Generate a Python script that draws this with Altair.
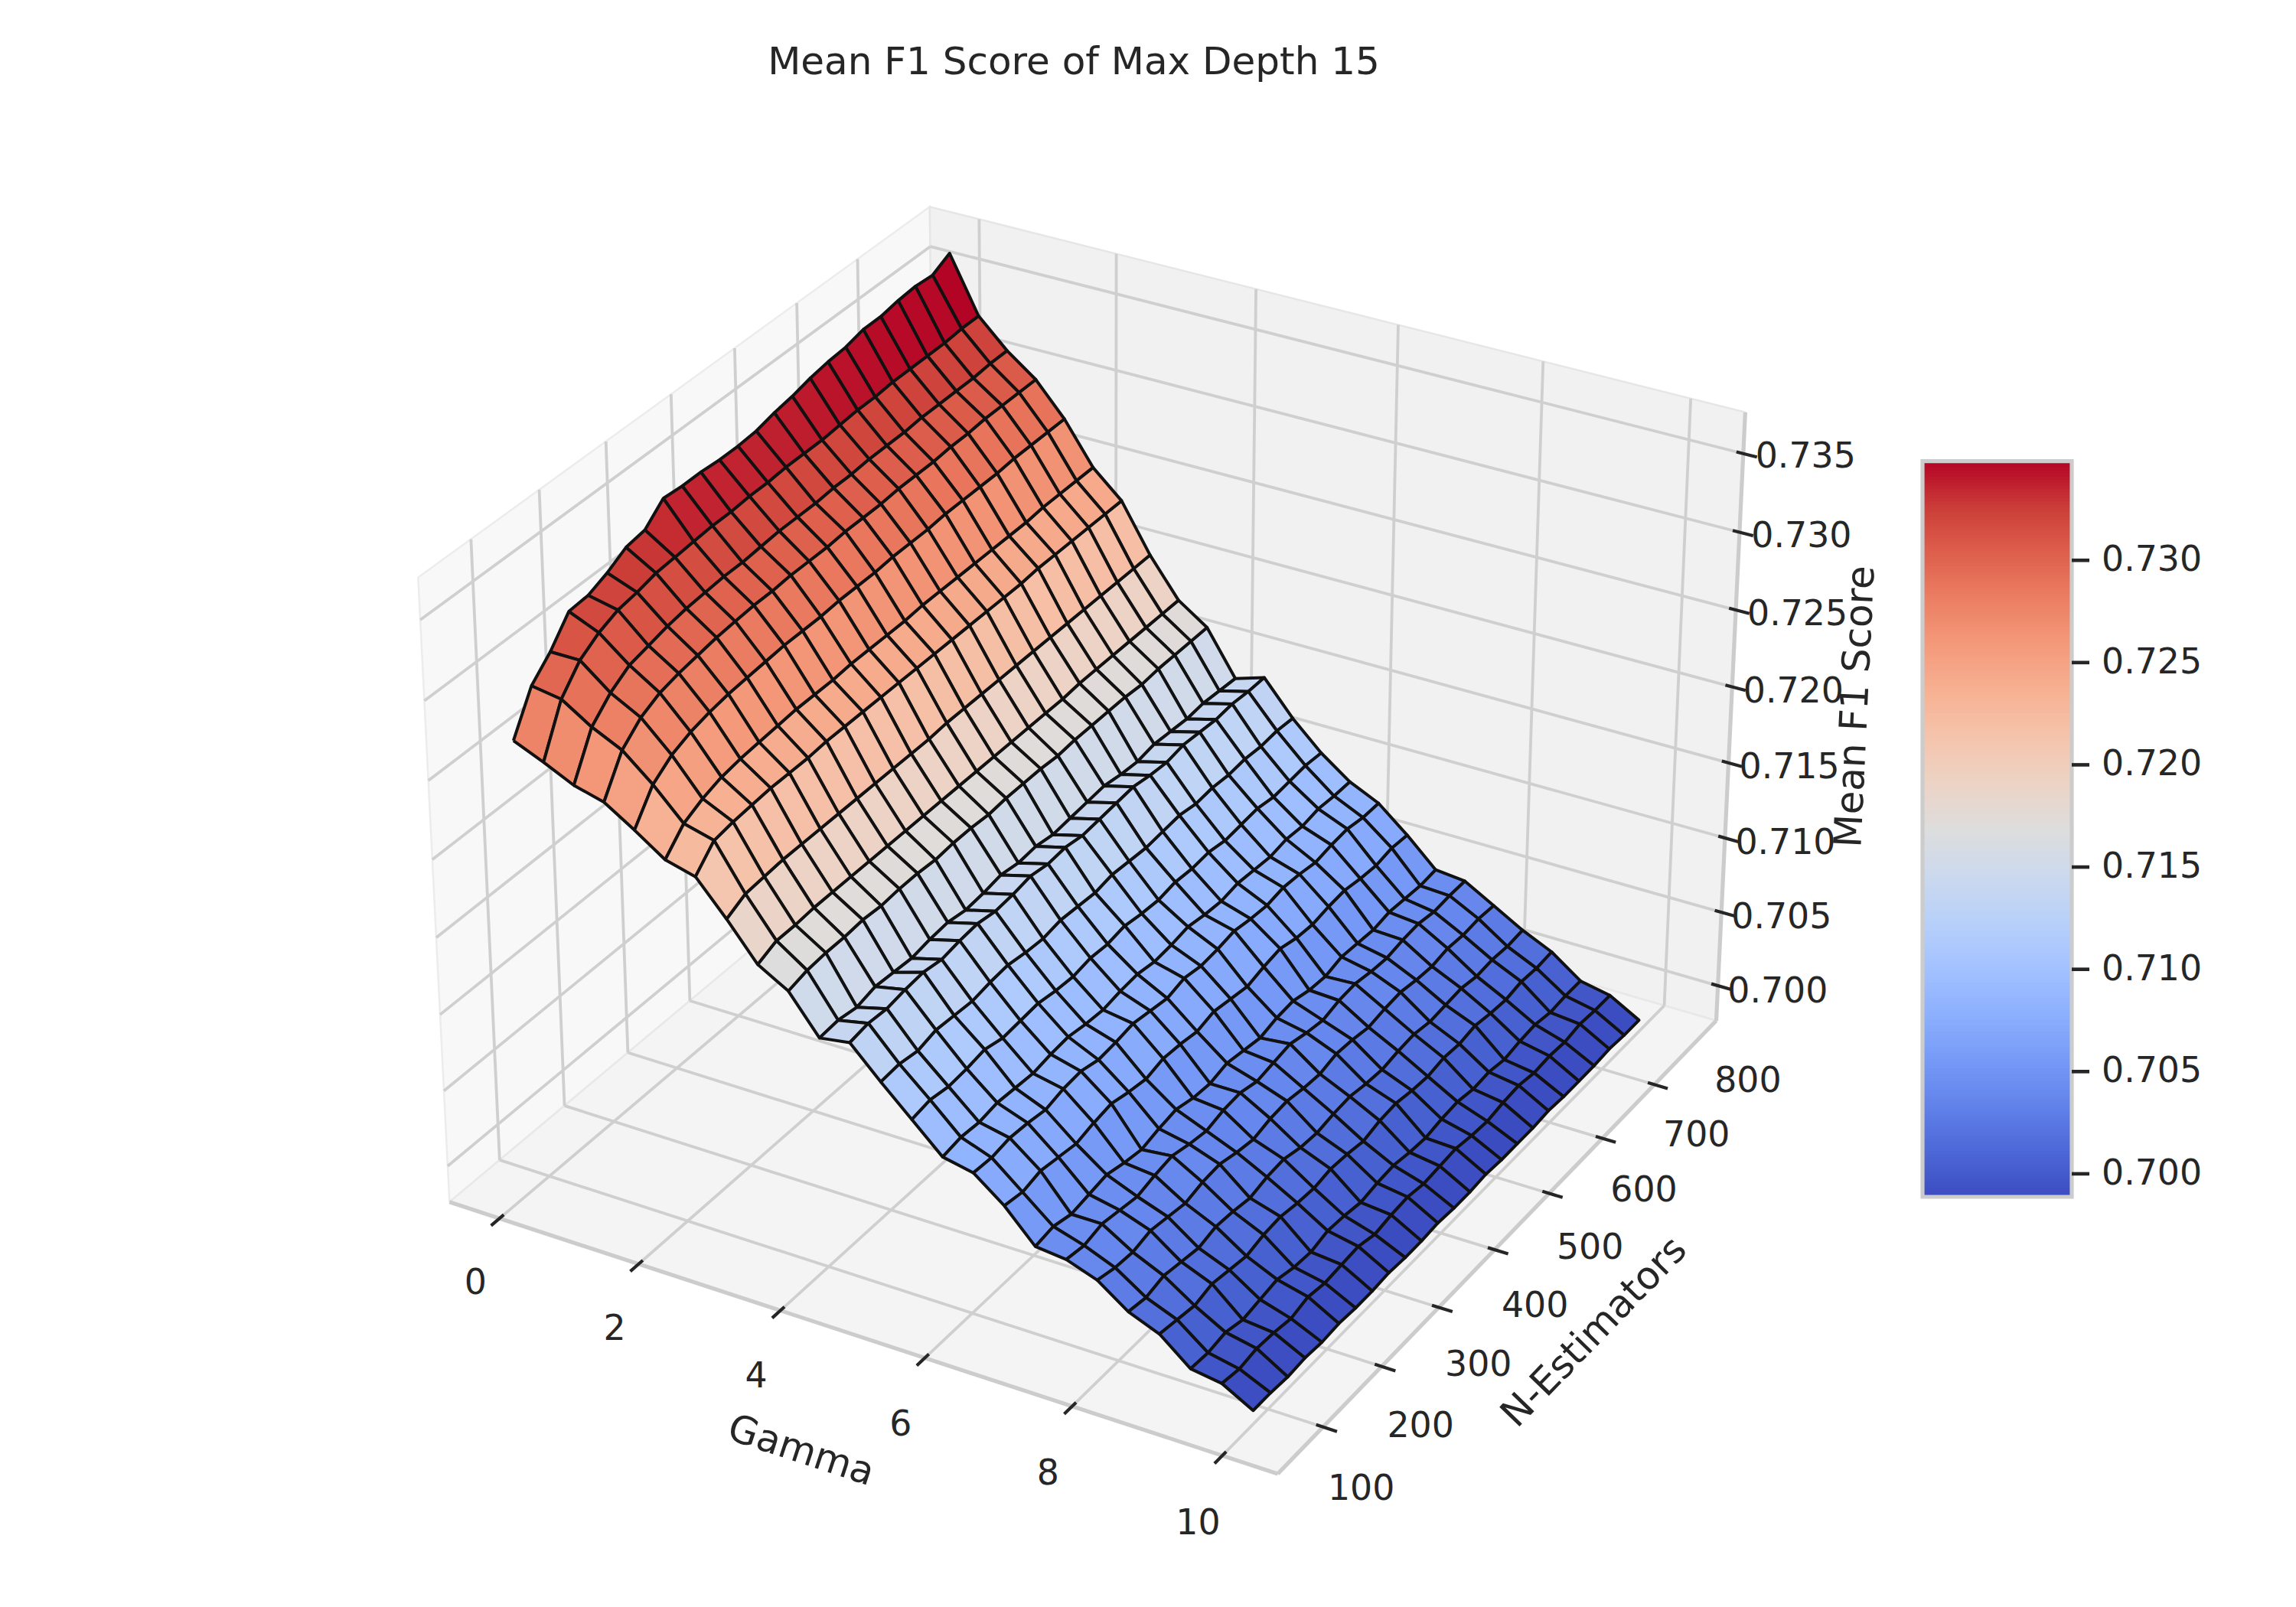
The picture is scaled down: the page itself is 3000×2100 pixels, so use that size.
import numpy as np
import pandas as pd
import altair as alt

# ---------------- data ----------------
gamma = [0.0, 0.4167, 0.8333, 1.25, 1.6667, 2.0833, 2.5, 2.9167, 3.3333, 3.75,
         4.1667, 4.5833, 5.0, 5.4167, 5.8333, 6.25, 6.6667, 7.0833, 7.5, 7.9167,
         8.3333, 8.75, 9.1667, 9.5833, 10.0]
n_estimators = [175, 204, 233, 262, 291, 320, 349, 378, 407, 436, 465, 494, 523,
                552, 581, 610, 639, 668, 697, 726, 755, 784, 813, 842, 871]
# one row per gamma value, one column per n_estimators value
mean_f1 = [
    [0.7268, 0.7293, 0.7305, 0.7321, 0.7322, 0.7327, 0.7334, 0.7336, 0.7347, 0.7346, 0.7346, 0.7345, 0.7345, 0.7346, 0.7349, 0.7351, 0.7354, 0.7356, 0.7357, 0.7360, 0.7360, 0.7362, 0.7363, 0.7362, 0.7368],
    [0.7260, 0.7290, 0.7305, 0.7313, 0.7318, 0.7320, 0.7323, 0.7324, 0.7325, 0.7326, 0.7326, 0.7327, 0.7327, 0.7328, 0.7328, 0.7328, 0.7329, 0.7330, 0.7330, 0.7331, 0.7331, 0.7331, 0.7331, 0.7332, 0.7332],
    [0.7251, 0.7278, 0.7290, 0.7298, 0.7301, 0.7304, 0.7306, 0.7307, 0.7308, 0.7308, 0.7309, 0.7310, 0.7310, 0.7310, 0.7311, 0.7311, 0.7312, 0.7312, 0.7312, 0.7313, 0.7313, 0.7313, 0.7313, 0.7314, 0.7314],
    [0.7246, 0.7269, 0.7280, 0.7286, 0.7289, 0.7291, 0.7293, 0.7294, 0.7295, 0.7295, 0.7296, 0.7296, 0.7296, 0.7297, 0.7297, 0.7297, 0.7298, 0.7298, 0.7298, 0.7299, 0.7299, 0.7300, 0.7300, 0.7300, 0.7300],
    [0.7234, 0.7253, 0.7262, 0.7267, 0.7270, 0.7272, 0.7273, 0.7274, 0.7275, 0.7275, 0.7275, 0.7276, 0.7276, 0.7276, 0.7277, 0.7277, 0.7277, 0.7278, 0.7278, 0.7278, 0.7278, 0.7279, 0.7279, 0.7279, 0.7279],
    [0.7221, 0.7234, 0.7240, 0.7244, 0.7246, 0.7247, 0.7248, 0.7249, 0.7249, 0.7249, 0.7250, 0.7250, 0.7250, 0.7250, 0.7251, 0.7251, 0.7251, 0.7251, 0.7251, 0.7251, 0.7251, 0.7252, 0.7252, 0.7252, 0.7252],
    [0.7216, 0.7229, 0.7231, 0.7232, 0.7233, 0.7233, 0.7233, 0.7234, 0.7234, 0.7234, 0.7234, 0.7234, 0.7234, 0.7234, 0.7234, 0.7234, 0.7234, 0.7234, 0.7234, 0.7235, 0.7235, 0.7235, 0.7235, 0.7235, 0.7235],
    [0.7195, 0.7201, 0.7202, 0.7203, 0.7203, 0.7203, 0.7203, 0.7203, 0.7203, 0.7203, 0.7203, 0.7203, 0.7204, 0.7204, 0.7204, 0.7204, 0.7204, 0.7204, 0.7204, 0.7204, 0.7204, 0.7204, 0.7204, 0.7204, 0.7204],
    [0.7172, 0.7177, 0.7177, 0.7178, 0.7178, 0.7178, 0.7178, 0.7178, 0.7178, 0.7178, 0.7178, 0.7178, 0.7178, 0.7178, 0.7178, 0.7178, 0.7178, 0.7178, 0.7179, 0.7179, 0.7179, 0.7179, 0.7179, 0.7179, 0.7179],
    [0.7161, 0.7164, 0.7165, 0.7165, 0.7166, 0.7165, 0.7166, 0.7166, 0.7165, 0.7166, 0.7166, 0.7165, 0.7166, 0.7166, 0.7166, 0.7165, 0.7166, 0.7166, 0.7166, 0.7166, 0.7165, 0.7166, 0.7166, 0.7166, 0.7166],
    [0.7137, 0.7138, 0.7136, 0.7139, 0.7138, 0.7137, 0.7139, 0.7140, 0.7138, 0.7139, 0.7141, 0.7139, 0.7140, 0.7138, 0.7139, 0.7140, 0.7141, 0.7139, 0.7138, 0.7140, 0.7139, 0.7138, 0.7139, 0.7138, 0.7137],
    [0.7140, 0.7142, 0.7141, 0.7143, 0.7144, 0.7142, 0.7144, 0.7145, 0.7143, 0.7144, 0.7146, 0.7144, 0.7145, 0.7143, 0.7144, 0.7145, 0.7146, 0.7144, 0.7143, 0.7145, 0.7144, 0.7143, 0.7144, 0.7143, 0.7143],
    [0.7121, 0.7122, 0.7120, 0.7123, 0.7122, 0.7121, 0.7123, 0.7124, 0.7122, 0.7121, 0.7123, 0.7122, 0.7121, 0.7123, 0.7122, 0.7121, 0.7122, 0.7123, 0.7121, 0.7122, 0.7121, 0.7122, 0.7121, 0.7122, 0.7121],
    [0.7103, 0.7105, 0.7103, 0.7104, 0.7106, 0.7103, 0.7104, 0.7105, 0.7103, 0.7102, 0.7104, 0.7103, 0.7105, 0.7103, 0.7102, 0.7104, 0.7103, 0.7104, 0.7102, 0.7103, 0.7104, 0.7102, 0.7103, 0.7104, 0.7103],
    [0.7085, 0.7087, 0.7086, 0.7088, 0.7087, 0.7086, 0.7088, 0.7089, 0.7087, 0.7086, 0.7088, 0.7089, 0.7087, 0.7088, 0.7090, 0.7088, 0.7087, 0.7089, 0.7088, 0.7087, 0.7089, 0.7088, 0.7090, 0.7089, 0.7089],
    [0.7081, 0.7080, 0.7082, 0.7081, 0.7079, 0.7082, 0.7083, 0.7080, 0.7081, 0.7083, 0.7081, 0.7079, 0.7082, 0.7080, 0.7081, 0.7083, 0.7081, 0.7080, 0.7082, 0.7081, 0.7079, 0.7081, 0.7082, 0.7080, 0.7080],
    [0.7066, 0.7064, 0.7067, 0.7065, 0.7063, 0.7066, 0.7068, 0.7065, 0.7063, 0.7066, 0.7065, 0.7063, 0.7066, 0.7064, 0.7062, 0.7065, 0.7067, 0.7064, 0.7063, 0.7065, 0.7066, 0.7064, 0.7063, 0.7065, 0.7064],
    [0.7046, 0.7048, 0.7045, 0.7047, 0.7049, 0.7046, 0.7044, 0.7047, 0.7049, 0.7046, 0.7045, 0.7048, 0.7046, 0.7044, 0.7047, 0.7048, 0.7045, 0.7044, 0.7047, 0.7046, 0.7045, 0.7047, 0.7046, 0.7045, 0.7046],
    [0.7044, 0.7042, 0.7045, 0.7043, 0.7041, 0.7044, 0.7046, 0.7043, 0.7041, 0.7044, 0.7045, 0.7042, 0.7044, 0.7046, 0.7043, 0.7041, 0.7044, 0.7045, 0.7043, 0.7042, 0.7044, 0.7045, 0.7043, 0.7044, 0.7044],
    [0.7037, 0.7034, 0.7033, 0.7036, 0.7034, 0.7032, 0.7035, 0.7036, 0.7033, 0.7031, 0.7034, 0.7035, 0.7033, 0.7032, 0.7035, 0.7034, 0.7032, 0.7034, 0.7035, 0.7033, 0.7032, 0.7034, 0.7033, 0.7034, 0.7033],
    [0.7023, 0.7021, 0.7024, 0.7022, 0.7020, 0.7023, 0.7022, 0.7020, 0.7023, 0.7024, 0.7021, 0.7020, 0.7022, 0.7023, 0.7021, 0.7020, 0.7022, 0.7023, 0.7021, 0.7022, 0.7023, 0.7021, 0.7022, 0.7021, 0.7022],
    [0.7015, 0.7013, 0.7011, 0.7014, 0.7012, 0.7010, 0.7013, 0.7014, 0.7012, 0.7011, 0.7013, 0.7012, 0.7010, 0.7013, 0.7014, 0.7012, 0.7011, 0.7013, 0.7012, 0.7014, 0.7012, 0.7011, 0.7013, 0.7012, 0.7013],
    [0.6999, 0.6998, 0.7000, 0.6997, 0.6999, 0.7001, 0.6998, 0.6997, 0.7000, 0.6999, 0.6997, 0.6999, 0.7000, 0.6998, 0.6997, 0.6999, 0.7000, 0.6998, 0.6999, 0.6997, 0.6999, 0.7000, 0.6998, 0.6999, 0.6999],
    [0.6996, 0.6994, 0.6996, 0.6995, 0.6993, 0.6996, 0.6994, 0.6995, 0.6996, 0.6993, 0.6995, 0.6996, 0.6994, 0.6995, 0.6996, 0.6994, 0.6993, 0.6995, 0.6996, 0.6994, 0.6995, 0.6994, 0.6996, 0.6995, 0.6995],
    [0.6985, 0.6985, 0.6984, 0.6985, 0.6984, 0.6985, 0.6984, 0.6984, 0.6985, 0.6984, 0.6984, 0.6985, 0.6984, 0.6984, 0.6985, 0.6984, 0.6984, 0.6984, 0.6985, 0.6984, 0.6984, 0.6984, 0.6985, 0.6984, 0.6984],
]

gamma_ticks = [0, 2, 4, 6, 8, 10]
n_ticks = [100, 200, 300, 400, 500, 600, 700, 800]
z_ticks = [0.700, 0.705, 0.710, 0.715, 0.720, 0.725, 0.730, 0.735]
cbar_ticks = [0.700, 0.705, 0.710, 0.715, 0.720, 0.725, 0.730]
title_text = "Mean F1 Score of Max Depth 15"
x_title, y_title, z_title = "Gamma", "N-Estimators", "Mean F1 Score"

# coolwarm colour map stops
coolwarm = ["#3b4cc0", "#4d68d7", "#6282ea", "#779af7", "#8db0fe", "#a3c2ff",
            "#b8d0f9", "#ccd9ee", "#dddddd", "#ecd3c5", "#f5c4ac", "#f7b193",
            "#f49a7b", "#ec7f63", "#de604d", "#cb3e38", "#b40426"]

# ---------------- 3-D view (matplotlib-like: elev 30, azim -60, perspective) ----------------
G = np.array(gamma, float)
N = np.array(n_estimators, float)
Z = np.array(mean_f1, float)


def lim(a, m):
    lo, hi = float(np.min(a)), float(np.max(a))
    r = hi - lo
    return lo - m * r, hi + m * r


XL, YL, ZL = lim(G, 0.05), lim(N, 0.05), lim(Z, 0.0)
BOX = np.array([4.0, 4.0, 3.0]) * 0.2976
HX, HY, HZ = BOX * 25.0 / 48.0          # padded pane box half extents
DL = BOX / 12.0                         # tick length unit
EL, AZ, DIST = np.deg2rad(30.0), np.deg2rad(-60.0), 10.0
W_ = np.array([np.cos(EL) * np.cos(AZ), np.cos(EL) * np.sin(AZ), np.sin(EL)])
U_ = np.cross([0.0, 0.0, 1.0], W_)
U_ = U_ / np.linalg.norm(U_)
V_ = np.cross(W_, U_)
SCALE, OX, OY = 9995.0, 1430.8, 1056.6


def nx(x):
    return ((np.asarray(x, float) - XL[0]) / (XL[1] - XL[0]) - 0.5) * BOX[0]


def ny(y):
    return ((np.asarray(y, float) - YL[0]) / (YL[1] - YL[0]) - 0.5) * BOX[1]


def nz(z):
    return ((np.asarray(z, float) - ZL[0]) / (ZL[1] - ZL[0]) - 0.5) * BOX[2]


def pix(q):
    q = np.asarray(q, float)
    d = DIST - q @ W_
    return float(OX + SCALE * (q @ U_) / d), float(OY - SCALE * (q @ V_) / d), float(d)


QX, QY, QZ = nx(G), ny(N), nz(Z)

# ---------------- surface quads (painter's order, far to near) ----------------
quads = []
for i in range(len(gamma) - 1):
    for j in range(len(n_estimators) - 1):
        idx = [(i, j), (i + 1, j), (i + 1, j + 1), (i, j + 1)]
        pp = [pix([QX[a], QY[b], QZ[a, b]]) for a, b in idx]
        depth = float(np.mean([p[2] for p in pp]))
        favg = float(np.mean([Z[a, b] for a, b in idx]))
        quads.append((depth, favg, pp))
quads.sort(key=lambda t: -t[0])
recs = []
for r, (depth, favg, pp) in enumerate(quads):
    for k, p in enumerate(pp + [pp[0]]):
        recs.append({"qid": f"q{r:04d}", "k": k, "px": p[0], "py": p[1], "favg": favg})
surf_df = pd.DataFrame(recs)
vmin = float(min(q[1] for q in quads))
vmax = float(max(q[1] for q in quads))

# ---------------- scales ----------------
W, H = 2960, 2070
XS = alt.Scale(domain=[8, 8 + W], nice=False, zero=False)
YS = alt.Scale(domain=[8, 8 + H], nice=False, zero=False, reverse=True)
CS = alt.Scale(domain=[float(v) for v in np.linspace(vmin, vmax, len(coolwarm))],
               range=coolwarm, interpolate="rgb")


def poly_layer(corners, fill, stroke, sw):
    pts = [pix(c) for c in corners]
    pts = pts + [pts[0]]
    df = pd.DataFrame({"k": list(range(len(pts))), "px": [p[0] for p in pts], "py": [p[1] for p in pts]})
    return alt.Chart(df).mark_line(fill=fill, stroke=stroke, strokeWidth=sw).encode(
        x=alt.X("px:Q", scale=XS, axis=None), y=alt.Y("py:Q", scale=YS, axis=None), order="k:Q")


def seg_layer(segs, color, sw):
    rows = []
    for a, b in segs:
        pa, pb = pix(a), pix(b)
        rows.append({"x1": pa[0], "y1": pa[1], "x2": pb[0], "y2": pb[1]})
    return alt.Chart(pd.DataFrame(rows)).mark_rule(color=color, strokeWidth=sw).encode(
        x=alt.X("x1:Q", scale=XS, axis=None), y=alt.Y("y1:Q", scale=YS, axis=None),
        x2="x2:Q", y2="y2:Q")


def text_layer(rows, size, angle=0, align="center", baseline="middle"):
    return alt.Chart(pd.DataFrame(rows)).mark_text(
        font="DejaVu Sans", fontSize=size, color="#262626", angle=angle,
        align=align, baseline=baseline).encode(
        x=alt.X("x:Q", scale=XS, axis=None), y=alt.Y("y:Q", scale=YS, axis=None), text="label:N")


# panes
left_pane = poly_layer([(-HX, -HY, -HZ), (-HX, HY, -HZ), (-HX, HY, HZ), (-HX, -HY, HZ)], "#f8f8f8", "#ececec", 2.5)
back_pane = poly_layer([(-HX, HY, -HZ), (HX, HY, -HZ), (HX, HY, HZ), (-HX, HY, HZ)], "#f1f1f1", "#e6e6e6", 2.5)
floor_pane = poly_layer([(-HX, -HY, -HZ), (HX, -HY, -HZ), (HX, HY, -HZ), (-HX, HY, -HZ)], "#f4f4f4", "#e8e8e8", 2.5)

# grid lines
grid = []
for g in gamma_ticks:
    q = float(nx(g))
    grid += [((q, -HY, -HZ), (q, HY, -HZ)), ((q, HY, -HZ), (q, HY, HZ))]
for n in n_ticks:
    if YL[0] <= n <= YL[1]:
        q = float(ny(n))
        grid += [((HX, q, -HZ), (-HX, q, -HZ)), ((-HX, q, -HZ), (-HX, q, HZ))]
for zt in z_ticks:
    if ZL[0] <= zt <= ZL[1]:
        q = float(nz(zt))
        grid += [((-HX, -HY, q), (-HX, HY, q)), ((-HX, HY, q), (HX, HY, q))]
grid_layer = seg_layer(grid, "#cfcfcf", 3.8)

# axis lines
axis_layer = seg_layer([((-HX, -HY, -HZ), (HX, -HY, -HZ)),
                        ((HX, -HY, -HZ), (HX, HY, -HZ)),
                        ((HX, HY, -HZ), (HX, HY, HZ))], "#cccccc", 5.2)

# ticks and tick labels
ticks, glab, nlab, zlab = [], [], [], []
for g in gamma_ticks:
    q = float(nx(g))
    ticks.append(((q, -HY + 0.1 * DL[1], -HZ), (q, -HY - 0.2 * DL[1], -HZ)))
    p = pix((q, -HY - 0.0608, -HZ - 0.0664))
    glab.append({"x": p[0], "y": p[1], "label": str(g)})
for n in n_ticks:
    q = float(ny(n))
    if YL[0] <= n <= YL[1]:
        ticks.append(((HX - 0.1 * DL[0], q, -HZ), (HX + 0.2 * DL[0], q, -HZ)))
    p = pix((HX + 0.137, q, -HZ + 0.048))
    nlab.append({"x": p[0], "y": p[1], "label": str(n)})
for zt in z_ticks:
    q = float(nz(zt))
    ticks.append(((HX - 0.1 * DL[0], HY, q), (HX + 0.2 * DL[0], HY, q)))
    p = pix((HX + 0.089, HY, q + 0.0177))
    zlab.append({"x": p[0], "y": p[1], "label": f"{zt:.3f}"})
tick_layer = seg_layer(ticks, "#262626", 4.2)

# axis titles
A, B = pix((-HX, -HY, -HZ)), pix((HX, -HY, -HZ))
C, E = pix((HX, HY, -HZ)), pix((HX, HY, HZ))
ang_x = float(np.degrees(np.arctan2(B[1] - A[1], B[0] - A[0]))) % 360
ang_y = float(np.degrees(np.arctan2(C[1] - B[1], C[0] - B[0]))) % 360
ang_z = float(np.degrees(np.arctan2(E[1] - C[1], E[0] - C[0]))) % 360
px_, py_, _ = pix((0.0, -HY, -HZ))
xt = text_layer([{"x": px_ - 67, "y": py_ + 153, "label": x_title}], 50, angle=ang_x)
px_, py_, _ = pix((HX, 0.0, -HZ))
yt = text_layer([{"x": px_ + 114, "y": py_ + 125, "label": y_title}], 50, angle=ang_y)
px_, py_, _ = pix((HX, HY, 0.0))
zt_ = text_layer([{"x": px_ + 164, "y": py_ - 22, "label": z_title}], 50, angle=ang_z)

# surface
surface = alt.Chart(surf_df).mark_line(stroke="#111111", strokeWidth=4.0, strokeJoin="round").encode(
    x=alt.X("px:Q", scale=XS, axis=None),
    y=alt.Y("py:Q", scale=YS, axis=None),
    detail="qid:N",
    order="k:Q",
    fill=alt.Fill("favg:Q", scale=CS, legend=None),
)

# colour bar
CB_X0, CB_X1, CB_TOP, CB_BOT = 2512.0, 2707.0, 602.6, 1564.0


def cby(v):
    return CB_BOT - (v - vmin) / (vmax - vmin) * (CB_BOT - CB_TOP)


edges = np.linspace(vmin, vmax, 241)
cb_rows = [{"x1": CB_X0, "x2": CB_X1, "y1": cby(edges[k]) + 0.6, "y2": cby(edges[k + 1]) - 0.6,
            "v": float((edges[k] + edges[k + 1]) / 2)} for k in range(len(edges) - 1)]
cbar = alt.Chart(pd.DataFrame(cb_rows)).mark_rect(strokeWidth=0).encode(
    x=alt.X("x1:Q", scale=XS, axis=None), x2="x2:Q",
    y=alt.Y("y1:Q", scale=YS, axis=None), y2="y2:Q",
    fill=alt.Fill("v:Q", scale=CS, legend=None))
cbar_frame = alt.Chart(pd.DataFrame([{"x1": CB_X0, "x2": CB_X1, "y1": CB_BOT, "y2": CB_TOP}])).mark_rect(
    fillOpacity=0, stroke="#cccccc", strokeWidth=5.2).encode(
    x=alt.X("x1:Q", scale=XS, axis=None), x2="x2:Q",
    y=alt.Y("y1:Q", scale=YS, axis=None), y2="y2:Q")
cb_tick_rows = [{"x1": CB_X1, "x2": CB_X1 + 23, "y1": cby(t), "y2": cby(t)} for t in cbar_ticks]
cb_ticks = alt.Chart(pd.DataFrame(cb_tick_rows)).mark_rule(color="#262626", strokeWidth=4.6).encode(
    x=alt.X("x1:Q", scale=XS, axis=None), x2="x2:Q",
    y=alt.Y("y1:Q", scale=YS, axis=None), y2="y2:Q")
cb_labels = text_layer([{"x": CB_X1 + 39, "y": cby(t), "label": f"{t:.3f}"} for t in cbar_ticks],
                       45.8, align="left")

title = text_layer([{"x": 1403, "y": 97, "label": title_text}], 50, baseline="alphabetic")

chart = alt.layer(
    left_pane, back_pane, floor_pane, grid_layer, axis_layer, tick_layer,
    surface,
    text_layer(glab, 45.8), text_layer(nlab, 45.8), text_layer(zlab, 45.8),
    xt, yt, zt_,
    cbar, cbar_frame, cb_ticks, cb_labels, title,
).properties(
    width=W, height=H, padding=0,
    autosize=alt.AutoSizeParams(type="none"), background="white",
).configure_view(stroke=None)

chart.save("out.html", embed_options={"renderer": "svg", "actions": False})
